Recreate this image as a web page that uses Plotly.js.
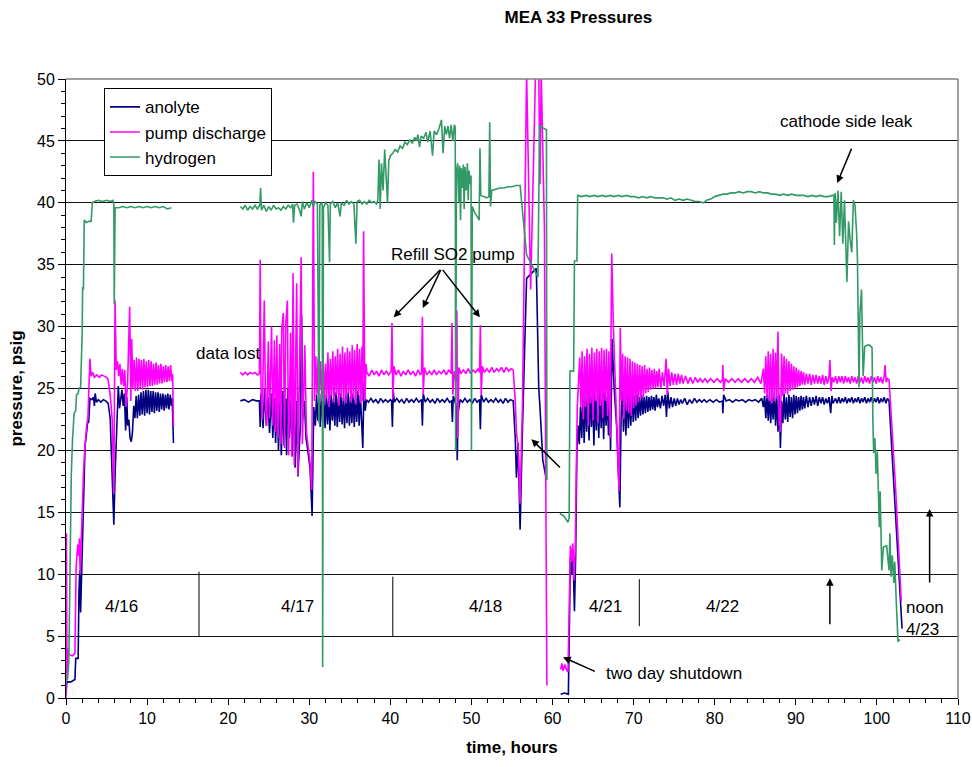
<!DOCTYPE html>
<html>
<head>
<meta charset="utf-8">
<script src="https://cdn.plot.ly/plotly-3.0.1.min.js"></script>
<style>html,body{margin:0;padding:0;background:#fff;}#chart{width:972px;height:767px;}</style>
</head>
<body>
<div id="chart"></div>
<script>
// ---- series names ----
const seriesNames = ['anolyte', 'pump discharge', 'hydrogen'];

// ---- anolyte pressure [hours, psig], three recorded segments ----
const anolyte1 = [[0,0.3],[0.1,1.3],[0.6,1.3],[1.1,1.5],[1.2,3.2],[1.5,3.2],[1.6,8.6],[1.7,10.3],[1.8,6.9],[1.9,9.8],[2.05,14.0],[2.2,17.5],[2.35,20.4],[2.5,21.2],[2.65,22.2],[2.8,22.3],[2.95,24.2],[3.2,24.1],[3.4,24.3],[3.5,23.6],[3.6,24.6],[3.75,23.9],[4.0,24.1],[4.3,23.9],[4.6,24.1],[4.9,24.0],[5.2,23.8],[5.45,22.6],[5.7,18.5],[5.9,14.0],[6.05,18.0],[6.15,20.2],[6.3,23.5],[6.45,25.2],[6.6,23.4],[6.75,24.3],[6.9,24.9],[7.05,23.6],[7.2,24.6],[7.35,21.6],[7.5,24.3],[7.6,22.0],[7.75,22.5],[7.9,21.0],[8.05,20.7],[8.2,21.5],[8.35,23.6],[8.5,22.6],[8.65,24.4],[8.8,22.6],[8.95,24.5],[9.1,22.8],[9.25,24.7],[9.4,22.9],[9.55,24.8],[9.7,22.8],[9.85,24.9],[10.0,23.0],[10.15,24.9],[10.3,22.9],[10.45,24.8],[10.6,23.1],[10.75,24.8],[10.9,23.0],[11.05,24.7],[11.2,23.2],[11.35,24.7],[11.5,23.1],[11.65,24.6],[11.8,23.3],[11.95,24.6],[12.1,23.2],[12.25,24.5],[12.4,23.4],[12.55,24.6],[12.7,23.3],[12.85,24.5],[13.0,23.6],[13.1,24.2],[13.25,20.6]];
const anolyte2 = [[21.5,24.0],[22.0,24.1],[22.5,23.9],[23.0,24.1],[23.5,24.0],[23.85,24.0],[23.95,21.9],[24.05,24.6],[24.3,21.8],[24.5,25.0],[24.7,22.0],[24.9,24.3],[25.1,21.4],[25.35,24.6],[25.5,21.0],[25.7,24.2],[25.85,20.6],[26.05,24.5],[26.2,20.0],[26.4,24.0],[26.55,19.6],[26.75,24.8],[26.9,20.4],[27.1,24.2],[27.2,19.6],[27.35,25.0],[27.55,21.0],[27.75,24.0],[27.9,19.5],[28.05,25.5],[28.25,18.6],[28.45,24.0],[28.6,17.9],[28.9,22.0],[29.05,31.0],[29.2,22.5],[29.4,24.0],[29.6,21.0],[29.9,19.6],[30.1,18.5],[30.35,14.7],[30.55,23.5],[30.75,22.0],[30.9,24.5],[31.05,22.4],[31.2,24.2],[31.35,21.9],[31.5,24.6],[31.65,22.3],[31.8,24.0],[31.95,21.8],[32.1,24.5],[32.25,22.1],[32.4,24.3],[32.55,21.6],[32.7,24.6],[32.85,22.4],[33.0,24.2],[33.15,22.0],[33.3,24.7],[33.45,21.9],[33.6,24.4],[33.75,22.3],[33.9,24.6],[34.05,22.1],[34.2,24.3],[34.35,21.8],[34.5,24.5],[34.65,22.2],[34.8,24.7],[34.95,22.0],[35.1,24.4],[35.25,22.2],[35.4,24.6],[35.55,21.9],[35.7,24.5],[35.85,22.3],[36.0,24.8],[36.15,22.0],[36.3,24.5],[36.45,22.4],[36.6,20.2],[36.75,25.5],[36.9,23.2],[37.05,24.1],[37.3,23.9],[37.6,24.2],[37.9,23.9],[38.2,24.1],[38.5,23.8],[38.8,24.2],[39.1,23.9],[39.4,24.1],[39.7,23.9],[40.0,24.1],[40.15,24.0],[40.25,21.9],[40.35,24.8],[40.5,23.9],[40.8,24.2],[41.1,23.9],[41.4,24.1],[41.7,23.8],[42.0,24.2],[42.3,23.9],[42.6,24.1],[42.9,23.9],[43.2,24.2],[43.5,23.9],[43.85,24.1],[43.95,22.0],[44.05,24.6],[44.3,23.9],[44.6,24.2],[44.9,23.9],[45.2,24.1],[45.5,23.8],[45.8,24.2],[46.1,23.9],[46.4,24.1],[46.7,23.9],[47.0,24.2],[47.3,23.9],[47.55,24.0],[47.65,22.3],[47.75,24.4],[47.95,24.0],[48.15,23.5],[48.25,19.2],[48.35,23.0],[48.6,24.1],[48.9,23.9],[49.2,24.2],[49.5,23.9],[49.8,24.1],[50.1,23.8],[50.4,24.2],[50.7,23.9],[51.0,24.1],[51.1,21.7],[51.2,24.5],[51.5,23.9],[51.8,24.2],[52.1,23.9],[52.4,24.1],[52.7,23.9],[53.0,24.2],[53.3,23.9],[53.6,24.1],[53.9,23.8],[54.2,24.2],[54.5,23.9],[54.8,24.1],[55.15,24.0],[55.4,21.0],[55.55,17.8],[55.75,20.6],[56.0,13.6],[56.3,22.0],[56.8,33.9],[58.0,34.7],[58.3,25.0],[58.45,23.5],[58.6,21.0],[58.8,19.2],[59.25,17.6]];
const anolyte3 = [[61.0,0.3],[61.5,0.4],[61.95,0.3],[62.05,5.0],[62.2,11.3],[62.35,10.0],[62.5,12.0],[62.7,7.0],[62.85,11.5],[63.0,19.9],[63.15,22.0],[63.3,20.5],[63.45,23.5],[63.6,21.0],[63.75,24.5],[63.9,20.6],[64.05,24.8],[64.2,21.5],[64.35,24.6],[64.5,20.8],[64.65,25.0],[64.8,21.9],[64.95,24.7],[65.1,20.4],[65.25,24.9],[65.4,21.6],[65.55,24.5],[65.7,21.0],[65.85,24.8],[66.0,21.8],[66.15,24.6],[66.3,20.9],[66.45,24.7],[66.6,22.0],[66.75,24.4],[66.9,21.2],[67.05,24.5],[67.15,20.0],[67.35,29.0],[67.6,25.0],[67.9,22.0],[68.1,18.5],[68.3,15.4],[68.45,22.5],[68.6,25.0],[68.75,21.5],[68.9,24.6],[69.05,21.2],[69.2,24.8],[69.35,21.8],[69.5,24.5],[69.65,22.0],[69.8,24.7],[69.95,22.3],[70.1,24.4],[70.25,22.4],[70.4,24.6],[70.55,22.6],[70.7,24.3],[70.85,22.8],[71.0,24.5],[71.15,22.9],[71.3,24.3],[71.45,23.0],[71.6,24.4],[71.75,23.1],[71.9,24.3],[72.05,23.2],[72.2,24.4],[72.35,23.3],[72.5,24.3],[72.65,23.2],[72.8,24.5],[72.95,23.5],[73.1,24.2],[73.3,23.4],[73.5,24.4],[73.7,23.6],[73.9,24.5],[74.05,22.7],[74.2,24.8],[74.4,23.4],[74.6,24.3],[74.8,23.5],[75.0,24.2],[75.2,23.6],[75.4,24.2],[75.6,23.7],[75.8,24.1],[76.0,23.8],[76.3,24.2],[76.6,23.7],[76.9,24.1],[77.2,23.8],[77.5,24.2],[77.8,23.9],[78.1,24.1],[78.4,23.9],[78.7,24.1],[79.0,23.9],[79.4,24.1],[79.8,23.9],[80.2,24.1],[80.6,23.9],[80.95,24.0],[81.0,23.0],[81.1,24.5],[81.4,24.0],[81.8,24.1],[82.2,23.9],[82.6,24.1],[83.0,24.0],[83.4,24.1],[83.8,23.9],[84.2,24.1],[84.6,24.0],[85.0,24.1],[85.4,23.9],[85.8,24.2],[86.0,23.5],[86.15,24.4],[86.3,22.6],[86.45,24.5],[86.6,22.4],[86.75,24.6],[86.9,22.2],[87.05,24.3],[87.2,22.5],[87.35,24.7],[87.5,22.0],[87.65,24.4],[87.8,21.5],[87.95,24.5],[88.1,20.2],[88.25,24.0],[88.4,22.2],[88.55,24.6],[88.7,22.5],[88.85,24.3],[89.0,22.3],[89.15,24.5],[89.3,22.7],[89.45,24.3],[89.6,22.6],[89.75,24.5],[89.9,22.9],[90.05,24.4],[90.2,23.0],[90.35,24.3],[90.5,23.2],[90.65,24.4],[90.8,23.3],[90.95,24.3],[91.1,23.4],[91.3,24.4],[91.5,23.5],[91.7,24.3],[91.9,23.6],[92.1,24.3],[92.3,23.7],[92.5,24.4],[92.7,23.6],[92.9,24.3],[93.1,23.8],[93.3,24.3],[93.5,23.7],[93.7,24.2],[93.9,23.8],[94.1,24.3],[94.3,23.0],[94.45,24.4],[94.6,23.8],[94.9,24.2],[95.1,23.8],[95.3,24.3],[95.5,23.8],[95.7,24.2],[95.9,23.9],[96.1,24.3],[96.3,23.8],[96.5,24.2],[96.7,23.9],[96.9,24.3],[97.1,23.8],[97.3,24.2],[97.5,23.9],[97.7,24.3],[97.9,23.8],[98.1,24.2],[98.3,23.9],[98.5,24.3],[98.7,23.8],[98.9,24.2],[99.1,23.9],[99.3,24.3],[99.5,23.8],[99.7,24.2],[99.9,23.9],[100.1,24.3],[100.3,23.8],[100.5,24.2],[100.7,23.9],[100.9,24.3],[101.1,23.8],[101.3,24.2],[101.5,24.0],[102.3,15.0],[103.1,5.6]];

// ---- pump discharge pressure [hours, psig] ----
const pump1 = [[0,0],[0.05,13.3],[0.12,2.0],[0.2,4.0],[0.35,3.5],[0.8,3.4],[1.1,3.6],[1.25,10.6],[1.45,12.4],[1.55,11.5],[1.65,12.9],[1.75,10.0],[1.85,12.2],[2.0,15.5],[2.15,18.0],[2.3,20.0],[2.45,21.5],[2.55,22.0],[2.7,22.6],[2.8,25.1],[2.95,27.4],[3.1,26.0],[3.3,26.3],[3.5,25.9],[3.8,26.1],[4.1,25.9],[4.4,26.1],[4.7,26.0],[5.0,25.9],[5.2,25.7],[5.45,24.5],[5.7,22.5],[5.9,16.5],[6.05,32.1],[6.2,26.5],[6.35,27.2],[6.5,26.0],[6.65,27.0],[6.8,25.3],[6.95,26.6],[7.1,25.2],[7.25,26.5],[7.4,23.5],[7.6,25.5],[7.85,31.6],[8.0,24.0],[8.1,29.0],[8.25,25.0],[8.4,27.3],[8.55,24.8],[8.7,27.5],[8.85,24.8],[9.0,27.4],[9.15,25.0],[9.3,27.3],[9.45,24.9],[9.6,27.4],[9.75,25.1],[9.9,27.2],[10.05,25.1],[10.2,27.3],[10.35,25.2],[10.5,27.2],[10.65,25.2],[10.8,27.0],[10.95,25.3],[11.1,27.1],[11.25,25.3],[11.4,26.9],[11.55,25.4],[11.7,27.0],[11.85,25.4],[12.0,26.8],[12.15,25.5],[12.3,26.9],[12.45,25.5],[12.6,26.8],[12.75,25.6],[12.9,26.9],[13.05,25.6],[13.15,26.2],[13.25,22.0]];
const pump2 = [[21.5,26.3],[21.8,26.1],[22.1,26.3],[22.4,26.1],[22.7,26.3],[23.0,26.2],[23.3,26.3],[23.6,26.1],[23.85,26.2],[23.95,35.4],[24.05,25.0],[24.2,22.5],[24.45,32.1],[24.6,24.0],[24.75,22.0],[24.95,28.8],[25.1,22.6],[25.35,30.0],[25.5,22.0],[25.7,28.9],[25.85,21.5],[26.0,29.3],[26.15,21.0],[26.35,28.6],[26.5,20.5],[26.6,29.7],[26.8,31.1],[26.95,20.2],[27.1,30.2],[27.3,32.1],[27.45,19.6],[27.7,29.5],[27.85,19.5],[28.0,34.3],[28.15,18.8],[28.45,33.5],[28.6,18.0],[29.0,35.6],[29.15,20.5],[29.45,28.5],[29.65,21.5],[29.9,20.0],[30.1,19.0],[30.3,16.8],[30.5,42.5],[30.65,24.0],[30.8,27.6],[30.95,24.5],[31.1,27.5],[31.25,24.8],[31.4,27.2],[31.55,24.0],[31.7,27.6],[31.85,23.8],[32.0,27.0],[32.15,24.2],[32.3,27.9],[32.45,23.5],[32.6,27.4],[32.75,24.4],[32.9,28.0],[33.05,23.9],[33.2,27.6],[33.35,24.5],[33.5,28.2],[33.65,23.6],[33.8,27.8],[33.95,24.3],[34.1,28.4],[34.25,24.0],[34.4,27.9],[34.55,23.8],[34.7,28.3],[34.85,24.6],[35.0,28.0],[35.15,23.9],[35.3,28.5],[35.45,24.2],[35.6,28.1],[35.75,23.7],[35.9,28.6],[36.05,24.5],[36.2,28.2],[36.35,23.8],[36.5,28.4],[36.6,24.0],[36.7,37.7],[36.85,24.0],[37.0,27.0],[37.1,26.3],[37.4,26.0],[37.7,26.5],[38.0,26.1],[38.3,26.4],[38.6,26.0],[38.9,26.5],[39.2,26.1],[39.5,26.4],[39.8,26.1],[40.1,26.4],[40.2,30.3],[40.3,24.2],[40.45,26.8],[40.7,26.1],[41.0,26.5],[41.3,26.0],[41.6,26.4],[41.9,26.1],[42.2,26.5],[42.5,26.1],[42.8,26.4],[43.1,26.0],[43.4,26.5],[43.7,26.1],[43.85,26.3],[43.95,30.8],[44.05,24.5],[44.2,26.7],[44.5,26.1],[44.8,26.4],[45.1,26.1],[45.4,26.5],[45.7,26.1],[46.0,26.4],[46.3,26.2],[46.6,26.5],[46.9,26.1],[47.2,26.5],[47.5,26.2],[47.6,30.3],[47.7,24.5],[47.9,26.4],[48.1,25.5],[48.2,31.3],[48.3,21.0],[48.45,26.7],[48.7,26.2],[49.0,26.5],[49.3,26.2],[49.6,26.6],[49.9,26.2],[50.2,26.5],[50.5,26.3],[50.8,26.6],[51.0,26.3],[51.1,30.1],[51.2,24.5],[51.35,26.8],[51.6,26.3],[51.9,26.6],[52.2,26.3],[52.5,26.7],[52.8,26.3],[53.1,26.6],[53.4,26.4],[53.7,26.7],[54.0,26.3],[54.3,26.7],[54.6,26.4],[54.9,26.6],[55.15,26.5],[55.4,24.0],[55.55,21.4],[55.75,20.4],[56.0,15.7],[56.3,24.0],[56.8,50.5],[57.3,33.0],[57.9,50.5],[58.3,50.5],[58.45,41.5],[58.6,50.5],[58.8,45.0],[59.0,38.0],[59.3,1.0]];
const pump3 = [[61.0,2.3],[61.15,2.8],[61.3,2.2],[61.5,2.7],[61.7,2.3],[61.9,2.1],[62.05,7.0],[62.2,12.3],[62.35,11.0],[62.5,12.5],[62.65,9.5],[62.8,12.0],[62.9,17.0],[63.05,23.5],[63.2,25.5],[63.35,27.5],[63.5,23.5],[63.65,28.0],[63.8,22.5],[63.95,27.6],[64.1,23.5],[64.25,28.2],[64.4,22.0],[64.55,27.8],[64.7,23.8],[64.85,28.3],[65.0,22.4],[65.15,27.9],[65.3,24.0],[65.45,28.2],[65.6,22.2],[65.75,28.0],[65.9,23.6],[66.05,28.3],[66.2,22.6],[66.35,28.1],[66.5,24.0],[66.65,28.2],[66.8,22.8],[66.95,28.0],[67.1,21.0],[67.3,35.9],[67.5,30.0],[67.8,24.0],[68.0,20.0],[68.2,16.7],[68.35,29.9],[68.5,24.0],[68.65,27.8],[68.8,22.5],[68.95,27.6],[69.1,23.2],[69.25,27.5],[69.4,23.0],[69.55,27.4],[69.7,22.8],[69.85,27.2],[70.0,23.4],[70.15,27.1],[70.3,23.6],[70.45,27.0],[70.6,23.9],[70.75,26.9],[70.9,24.2],[71.05,26.8],[71.2,24.3],[71.35,26.9],[71.5,24.6],[71.65,26.6],[71.8,24.7],[71.95,26.7],[72.1,24.9],[72.25,26.5],[72.4,25.0],[72.55,26.6],[72.7,25.0],[72.85,26.4],[73.0,25.1],[73.15,26.6],[73.35,25.0],[73.55,26.3],[73.75,25.2],[73.9,26.4],[74.0,27.4],[74.15,24.5],[74.3,26.6],[74.5,25.2],[74.7,26.3],[74.9,25.3],[75.1,26.2],[75.3,25.3],[75.5,26.2],[75.7,25.4],[75.9,26.1],[76.1,25.4],[76.4,26.0],[76.7,25.4],[77.0,25.9],[77.3,25.4],[77.6,25.9],[77.9,25.5],[78.2,25.8],[78.5,25.5],[78.8,25.8],[79.1,25.5],[79.5,25.8],[79.9,25.5],[80.3,25.8],[80.7,25.5],[80.95,25.7],[81.0,26.9],[81.1,24.8],[81.3,25.8],[81.7,25.5],[82.1,25.8],[82.5,25.5],[82.9,25.8],[83.3,25.5],[83.7,25.8],[84.1,25.5],[84.5,25.8],[84.9,25.5],[85.3,25.9],[85.7,25.4],[86.0,26.6],[86.15,24.6],[86.3,27.6],[86.45,24.2],[86.6,28.0],[86.75,24.0],[86.9,27.8],[87.05,23.8],[87.2,28.2],[87.35,24.0],[87.5,27.9],[87.65,24.2],[87.8,29.6],[87.95,22.0],[88.05,23.5],[88.1,21.5],[88.25,27.8],[88.4,24.4],[88.55,27.6],[88.7,24.6],[88.85,27.4],[89.0,24.5],[89.15,27.2],[89.3,24.8],[89.45,27.0],[89.6,24.9],[89.75,26.8],[89.9,25.0],[90.05,26.7],[90.2,25.1],[90.35,26.5],[90.5,25.2],[90.65,26.4],[90.8,25.3],[90.95,26.3],[91.1,25.3],[91.3,26.2],[91.5,25.4],[91.7,26.2],[91.9,25.3],[92.1,26.1],[92.3,25.4],[92.5,26.1],[92.7,25.4],[92.9,26.0],[93.1,25.4],[93.3,26.1],[93.5,25.3],[93.7,26.0],[93.9,25.4],[94.1,26.0],[94.2,27.3],[94.35,24.8],[94.5,25.9],[94.7,25.5],[94.9,26.0],[95.1,25.4],[95.3,26.0],[95.5,25.5],[95.7,26.0],[95.9,25.4],[96.1,26.0],[96.3,25.5],[96.5,25.9],[96.7,25.4],[96.9,26.0],[97.1,25.5],[97.3,25.9],[97.5,25.4],[97.7,26.0],[97.9,25.5],[98.1,25.9],[98.3,25.4],[98.5,26.0],[98.7,25.5],[98.9,25.9],[99.1,25.4],[99.3,26.0],[99.5,25.5],[99.7,25.9],[99.9,25.4],[100.1,26.0],[100.3,25.5],[100.5,25.9],[100.7,25.4],[100.9,26.0],[101.0,26.9],[101.15,25.5],[101.3,25.8],[101.5,25.7],[102.3,17.0],[103.0,7.8]];

// ---- hydrogen pressure [hours, psig] ----
const hydrogen1 = [[0,1.3],[0.2,1.6],[0.35,3.0],[0.5,12.0],[0.65,18.0],[0.8,20.8],[0.9,22.5],[1.0,23.0],[1.2,23.2],[1.3,24.5],[1.5,24.6],[1.6,25.0],[1.8,25.1],[1.9,26.7],[2.0,29.6],[2.05,33.2],[2.15,33.0],[2.25,38.6],[2.5,38.4],[2.8,38.5],[3.1,38.5],[3.25,40.0],[3.5,40.1],[4.0,40.2],[4.5,40.1],[5.0,40.2],[5.5,40.1],[5.8,40.2],[5.9,39.9],[5.95,31.8],[6.05,39.6],[6.5,39.6],[7.0,39.7],[7.5,39.6],[8.0,39.7],[8.5,39.6],[9.0,39.7],[9.5,39.6],[10.0,39.7],[10.5,39.6],[11.0,39.7],[11.5,39.6],[12.0,39.7],[12.5,39.5],[13.0,39.6]];
const hydrogen2 = [[21.5,39.7],[21.8,39.5],[22.1,39.8],[22.4,39.4],[22.7,39.7],[23.0,39.5],[23.3,39.8],[23.6,39.5],[23.9,39.8],[24.0,41.2],[24.1,39.4],[24.4,39.8],[24.7,39.3],[25.0,39.7],[25.3,39.4],[25.6,39.8],[25.9,39.5],[26.2,39.6],[26.5,39.4],[26.8,39.7],[27.1,39.5],[27.4,39.8],[27.7,39.6],[27.95,39.9],[28.05,38.4],[28.2,39.8],[28.5,39.9],[28.8,39.4],[29.0,38.9],[29.15,40.1],[29.4,39.5],[29.7,40.0],[30.0,39.6],[30.3,40.2],[30.5,39.7],[30.7,40.1],[31.0,39.9],[31.2,22.2],[31.3,39.8],[31.5,40.0],[31.6,39.8],[31.65,2.5],[31.75,39.6],[32.0,40.0],[32.3,39.8],[32.5,35.2],[32.6,39.9],[32.9,40.1],[33.2,39.6],[33.5,40.0],[33.8,38.9],[33.95,40.0],[34.3,39.8],[34.6,40.2],[34.9,39.9],[35.2,40.1],[35.5,39.9],[35.75,36.7],[35.9,40.1],[36.2,40.2],[36.5,39.9],[36.8,40.1],[37.1,39.9],[37.4,40.2],[37.7,40.0],[38.0,40.1],[38.3,39.9],[38.45,40.2],[38.6,43.5],[38.75,39.5],[38.9,43.2],[39.1,41.0],[39.3,44.3],[39.5,41.0],[39.65,40.0],[39.8,43.4],[40.0,43.8],[40.3,44.0],[40.6,44.3],[40.9,44.1],[41.2,44.6],[41.5,44.4],[41.8,44.9],[42.1,44.7],[42.4,45.1],[42.7,44.8],[43.0,45.3],[43.2,45.0],[43.4,45.5],[43.6,44.5],[43.8,45.4],[44.1,45.2],[44.4,45.7],[44.6,44.9],[44.9,45.8],[45.2,43.8],[45.4,45.8],[45.7,45.5],[46.0,46.0],[46.3,46.7],[46.5,44.0],[46.7,46.2],[46.9,45.5],[47.1,46.2],[47.3,45.2],[47.5,46.3],[47.7,45.0],[47.9,46.3],[48.0,46.1],[48.05,20.0],[48.15,42.5],[48.3,43.2],[48.45,40.0],[48.55,43.0],[48.65,38.6],[48.75,42.8],[48.9,41.2],[49.0,43.1],[49.1,39.5],[49.2,42.9],[49.35,41.0],[49.5,43.2],[49.6,40.2],[49.7,42.6],[49.85,41.5],[49.95,42.2],[50.0,20.0],[50.1,39.7],[50.4,39.2],[50.7,38.9],[50.95,38.6],[51.05,44.4],[51.15,40.6],[51.5,40.5],[51.9,40.4],[52.15,40.5],[52.25,46.5],[52.35,39.7],[52.5,41.0],[53.0,41.1],[53.5,41.2],[54.0,41.2],[54.5,41.3],[55.0,41.3],[55.5,41.4],[56.0,41.4],[56.8,35.8],[58.2,34.0],[58.4,46.2],[59.25,45.9],[59.3,17.6]];
const hydrogen3 = [[60.9,14.9],[61.4,14.7],[61.9,14.2],[62.05,14.5],[62.15,26.4],[62.6,26.4],[62.7,35.3],[63.0,35.3],[63.1,40.6],[63.6,40.5],[64.1,40.6],[64.6,40.5],[65.1,40.6],[65.6,40.5],[66.1,40.6],[66.6,40.5],[67.1,40.6],[67.6,40.5],[68.1,40.6],[68.6,40.5],[69.1,40.6],[69.6,40.5],[70.1,40.5],[70.6,40.4],[71.1,40.5],[71.6,40.4],[72.1,40.5],[72.6,40.4],[73.1,40.4],[73.6,40.4],[74.1,40.3],[74.6,40.4],[75.1,40.2],[75.6,40.3],[76.1,40.2],[76.6,40.3],[77.1,40.2],[77.6,40.1],[78.1,40.1],[78.6,40.0],[79.0,40.2],[79.5,40.3],[80.0,40.5],[80.5,40.6],[81.0,40.7],[81.5,40.7],[82.0,40.8],[82.5,40.8],[83.0,40.9],[83.5,40.8],[84.0,40.9],[84.5,40.9],[85.0,40.8],[85.5,40.9],[86.0,40.8],[86.5,40.8],[87.0,40.7],[87.5,40.7],[88.0,40.6],[88.5,40.7],[89.0,40.6],[89.5,40.7],[90.0,40.6],[90.5,40.6],[91.0,40.6],[91.5,40.5],[92.0,40.6],[92.5,40.5],[93.0,40.6],[93.5,40.5],[94.0,40.5],[94.5,40.6],[94.7,40.6],[94.75,36.6],[94.85,40.8],[95.0,38.4],[95.2,41.0],[95.4,37.3],[95.6,40.9],[95.8,36.7],[96.0,40.2],[96.3,33.6],[96.5,38.5],[96.7,37.0],[96.9,36.0],[97.1,40.2],[97.3,39.8],[97.5,37.5],[97.6,35.4],[97.8,25.1],[97.9,31.0],[98.1,33.0],[98.2,30.0],[98.3,26.0],[98.5,28.4],[98.8,28.5],[99.1,28.5],[99.4,28.3],[99.5,22.5],[99.6,19.8],[99.75,21.0],[99.9,18.1],[100.05,19.9],[100.2,16.5],[100.3,13.8],[100.4,16.7],[100.6,10.3],[100.8,12.2],[101.2,12.3],[101.5,10.3],[101.6,13.3],[101.75,9.8],[101.9,11.5],[102.1,9.3],[102.2,11.0],[102.4,7.6],[102.5,6.3],[102.6,4.6],[102.85,4.7]];

// ---- text labels ----
const dayLabels = ['4/16', '4/17', '4/18', '4/21', '4/22'];
const dayLabelHours = [6.9, 28.5, 51.7, 66.5, 81.0];
const daySeparatorHours = [16.4, 40.3, 70.7];

// join segments, leaving gaps where data were not recorded
function joinSegments(segs) {
  const x = [], y = [];
  segs.forEach((s, i) => {
    if (i > 0) { x.push(null); y.push(null); }
    s.forEach(p => { x.push(p[0]); y.push(p[1]); });
  });
  return {x, y};
}
const an = joinSegments([anolyte1, anolyte2, anolyte3]);
const pu = joinSegments([pump1, pump2, pump3]);
const hy = joinSegments([hydrogen1, hydrogen2, hydrogen3]);

const FONT = 'Liberation Sans, Arial, Helvetica, sans-serif';

const traces = [
  {x: an.x, y: an.y, name: seriesNames[0], type: 'scatter', mode: 'lines', line: {color: '#000080', width: 1.6}},
  {x: pu.x, y: pu.y, name: seriesNames[1], type: 'scatter', mode: 'lines', line: {color: '#FF00FF', width: 1.6}},
  {x: hy.x, y: hy.y, name: seriesNames[2], type: 'scatter', mode: 'lines', line: {color: '#339966', width: 1.6}}
];

const arrowStyle = {text: '', showarrow: true, arrowhead: 2, arrowsize: 1, arrowwidth: 1.5, arrowcolor: '#000', axref: 'x', ayref: 'y', xref: 'x', yref: 'y', standoff: 0};
const annotations = [
  {x: 20.0, y: 27.8, text: 'data lost', showarrow: false},
  {x: 47.7, y: 35.8, text: 'Refill SO2 pump', showarrow: false},
  {x: 96.3, y: 46.6, text: 'cathode side leak', showarrow: false},
  {x: 66.4, y: 2.0, text: 'two day shutdown', showarrow: false, xanchor: 'left'},
  {x: 103.3, y: 6.4, text: 'noon<br>4/23', showarrow: false, xanchor: 'left', align: 'left'},
  Object.assign({x: 40.4, y: 30.75, ax: 46.3, ay: 34.7}, arrowStyle),
  Object.assign({x: 44.0, y: 31.5, ax: 46.3, ay: 34.7}, arrowStyle),
  Object.assign({x: 51.05, y: 30.75, ax: 46.3, ay: 34.7}, arrowStyle),
  Object.assign({x: 57.4, y: 20.9, ax: 61.1, ay: 18.5}, arrowStyle),
  Object.assign({x: 61.3, y: 3.3, ax: 65.4, ay: 2.1}, arrowStyle),
  Object.assign({x: 95.1, y: 41.6, ax: 96.95, ay: 44.5}, arrowStyle),
  Object.assign({x: 94.2, y: 9.67, ax: 94.2, ay: 5.84}, arrowStyle),
  Object.assign({x: 106.5, y: 15.27, ax: 106.5, ay: 9.2}, arrowStyle)
];
dayLabels.forEach((d, i) => annotations.push({x: dayLabelHours[i], y: 7.4, text: d, showarrow: false}));

const sepTops = [10.2, 9.8, 9.6];
const sepBottoms = [5.0, 5.0, 5.8];
const shapes = daySeparatorHours.map((h, i) => ({type: 'line', xref: 'x', yref: 'y', x0: h, x1: h, y0: sepBottoms[i], y1: sepTops[i], line: {color: '#000', width: 1}}));
shapes.push({type: 'line', xref: 'paper', yref: 'paper', x0: 0, x1: 1, y0: 1, y1: 1, line: {color: '#808080', width: 1.5}, layer: 'above'});
shapes.push({type: 'line', xref: 'paper', yref: 'paper', x0: 1, x1: 1, y0: 0, y1: 1, line: {color: '#808080', width: 1.5}, layer: 'above'});

const layout = {
  width: 972, height: 767,
  margin: {l: 66, r: 14, t: 79, b: 69, pad: 0},
  paper_bgcolor: '#fff', plot_bgcolor: '#fff',
  font: {family: FONT, size: 17, color: '#000'},
  title: {text: 'MEA 33 Pressures', font: {family: FONT, size: 17, weight: 'bold', color: '#000'}, xref: 'container', yref: 'container', x: 0.595, xanchor: 'center', y: 0.978, yanchor: 'middle'},
  showlegend: true,
  legend: {x: 0.0426, y: 0.985, xanchor: 'left', yanchor: 'top', bgcolor: '#fff', bordercolor: '#000', borderwidth: 1, font: {family: FONT, size: 17, color: '#000'}, traceorder: 'normal', entrywidth: 132},
  xaxis: {
    range: [0, 110], tick0: 0, dtick: 10, ticks: 'outside', ticklen: 6, tickwidth: 1, tickcolor: '#000',
    showline: true, linecolor: '#000', linewidth: 1, showgrid: false, zeroline: false,
    minor: {dtick: 2, ticks: 'outside', ticklen: 4, tickcolor: '#000', showgrid: false},
    tickfont: {family: FONT, size: 16, color: '#000'},
    title: {text: 'time, hours', font: {family: FONT, size: 17, weight: 'bold', color: '#000'}, standoff: 14}
  },
  yaxis: {
    range: [0, 50], tick0: 0, dtick: 5, ticks: 'outside', ticklen: 7, tickwidth: 1, tickcolor: '#000',
    showline: true, linecolor: '#000', linewidth: 1, showgrid: true, gridcolor: '#111', gridwidth: 1, zeroline: false,
    minor: {dtick: 1, ticks: 'outside', ticklen: 4, tickcolor: '#000', showgrid: false},
    tickfont: {family: FONT, size: 16, color: '#000'},
    title: {text: 'pressure, psig', font: {family: FONT, size: 17, weight: 'bold', color: '#000'}, standoff: 10}
  },
  annotations: annotations,
  shapes: shapes
};

Plotly.newPlot('chart', traces, layout, {displayModeBar: false, staticPlot: true});
</script>
</body>
</html>
